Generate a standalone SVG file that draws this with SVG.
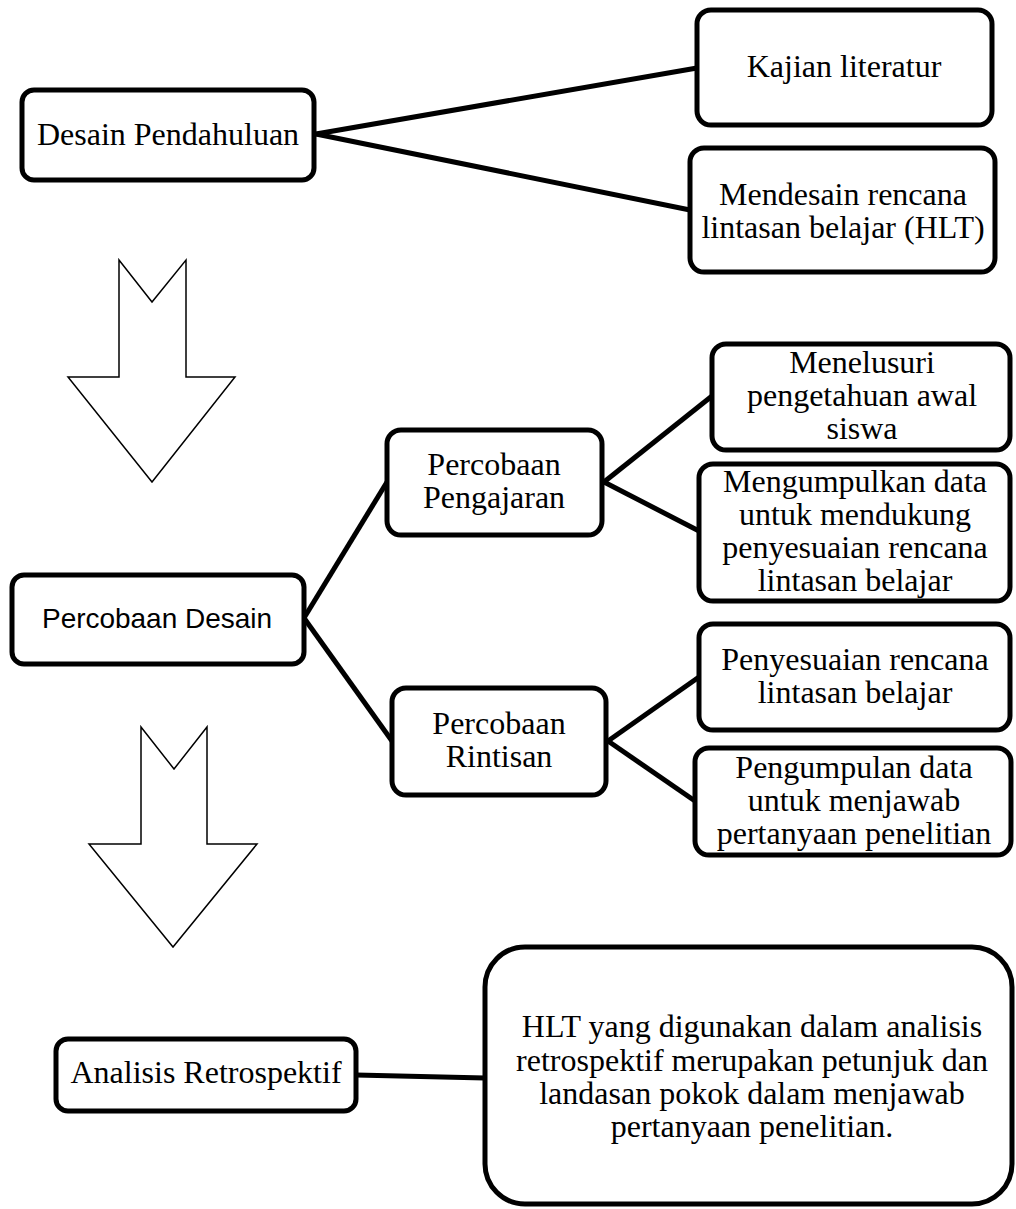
<svg xmlns="http://www.w3.org/2000/svg" width="1016" height="1209" viewBox="0 0 1016 1209">
<style>
.box{fill:#fff;stroke:#000;stroke-width:5}
.t{font-family:"Liberation Serif","Times New Roman",serif;font-size:32px;fill:#000;text-anchor:middle}
.s{font-family:"Liberation Sans",Arial,sans-serif;font-size:28px;fill:#000;text-anchor:middle}
.ln{stroke:#000;stroke-width:5;fill:none}
.arr{fill:#fff;stroke:#000;stroke-width:1.5}
</style>
<rect width="1016" height="1209" fill="#fff"/>
<g id="connectors">
<line class="ln" x1="316" y1="134" x2="697" y2="68"/>
<line class="ln" x1="316" y1="134" x2="690" y2="210"/>
<line class="ln" x1="304" y1="618" x2="387" y2="482"/>
<line class="ln" x1="304" y1="618" x2="392" y2="741"/>
<line class="ln" x1="604" y1="482" x2="712" y2="396"/>
<line class="ln" x1="604" y1="482" x2="699" y2="531"/>
<line class="ln" x1="608" y1="741" x2="699" y2="677"/>
<line class="ln" x1="608" y1="741" x2="695" y2="801"/>
<line class="ln" x1="356" y1="1075" x2="485" y2="1078"/>
</g>
<g id="arrow1"><polygon class="arr" points="119,260 152,302 186,260 186,377 235,377 152,482 68,377 119,377"/></g>
<g id="arrow2"><polygon class="arr" points="141,727 174,769 207,727 207,844 257,844 173,947 89,844 141,844"/></g>
<g id="desain-pendahuluan"><rect class="box" x="22" y="90" width="292" height="90" rx="12"/><text class="t" x="168" y="145">Desain Pendahuluan</text></g>
<g id="kajian"><rect class="box" x="697" y="10" width="295" height="115" rx="14"/><text class="t" x="844" y="77">Kajian literatur</text></g>
<g id="mendesain"><rect class="box" x="690" y="148" width="305" height="124" rx="14"/><text class="t" x="843" y="205">Mendesain rencana</text><text class="t" x="843" y="238">lintasan belajar (HLT)</text></g>
<g id="percobaan-desain"><rect class="box" x="12" y="575" width="292" height="89" rx="12"/><text class="s" x="157" y="628" textLength="230">Percobaan Desain</text></g>
<g id="pengajaran"><rect class="box" x="387" y="430" width="215" height="105" rx="14"/><text class="t" x="494" y="475">Percobaan</text><text class="t" x="494" y="508">Pengajaran</text></g>
<g id="menelusuri"><rect class="box" x="712" y="344" width="298" height="106" rx="14"/><text class="t" x="862" y="373">Menelusuri</text><text class="t" x="862" y="406">pengetahuan awal</text><text class="t" x="862" y="439">siswa</text></g>
<g id="mengumpulkan"><rect class="box" x="699" y="464" width="311" height="137" rx="14"/><text class="t" x="855" y="492">Mengumpulkan data</text><text class="t" x="855" y="525">untuk mendukung</text><text class="t" x="855" y="558">penyesuaian rencana</text><text class="t" x="855" y="591">lintasan belajar</text></g>
<g id="rintisan"><rect class="box" x="392" y="688" width="214" height="107" rx="14"/><text class="t" x="499" y="734">Percobaan</text><text class="t" x="499" y="767">Rintisan</text></g>
<g id="penyesuaian"><rect class="box" x="699" y="624" width="311" height="106" rx="14"/><text class="t" x="855" y="670">Penyesuaian rencana</text><text class="t" x="855" y="703">lintasan belajar</text></g>
<g id="pengumpulan"><rect class="box" x="695" y="748" width="316" height="107" rx="14"/><text class="t" x="854" y="778">Pengumpulan data</text><text class="t" x="854" y="811">untuk menjawab</text><text class="t" x="854" y="844">pertanyaan penelitian</text></g>
<g id="analisis"><rect class="box" x="56" y="1039" width="300" height="72" rx="12"/><text class="t" x="206" y="1083">Analisis Retrospektif</text></g>
<g id="hlt"><rect class="box" x="485" y="947" width="527" height="257" rx="40"/><text class="t" x="752" y="1037">HLT yang digunakan dalam analisis</text><text class="t" x="752" y="1071">retrospektif merupakan petunjuk dan</text><text class="t" x="752" y="1104">landasan pokok dalam menjawab</text><text class="t" x="752" y="1137">pertanyaan penelitian.</text></g>
</svg>
